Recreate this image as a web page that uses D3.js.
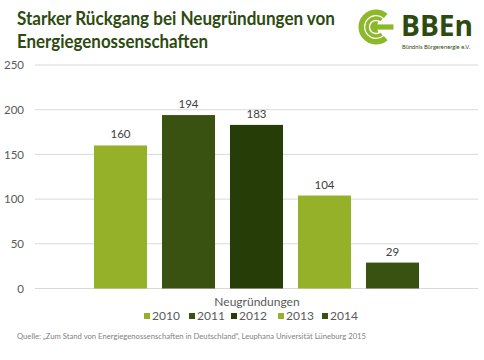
<!DOCTYPE html>
<html><head><meta charset="utf-8">
<script src="https://cdn.jsdelivr.net/npm/d3@7"></script>
<style>body{margin:0;background:#fff;}svg{display:block;font-family:Lato,"Open Sans",sans-serif;}</style>
</head><body><svg id="c" width="484" height="360"></svg>
<script>
const categories = ["2010","2011","2012","2013","2014"];
const values = [160,194,183,104,29];
const colors = ["#95b12a","#3a5211","#263d07","#95b12a","#3a5211"];
const yTicks = [0,50,100,150,200,250];
const title = ["Starker Rückgang bei Neugründungen von","Energiegenossenschaften"];
const xTitle = "Neugründungen";
const source = "Quelle: „Zum Stand von Energiegenossenschaften in Deutschland“, Leuphana Universität Lüneburg 2015";

const svg = d3.select("#c");
const x = d3.scaleBand().domain(categories).range([35,478]).paddingInner(0.22).paddingOuter(0.8675);
const y = d3.scaleLinear().domain([0,250]).range([288.5,65]);

// gridlines
svg.append("g").selectAll("line").data(yTicks).join("line")
  .attr("x1",35).attr("x2",478).attr("y1",d=>y(d)).attr("y2",d=>y(d))
  .attr("stroke","#d9d9d9").attr("stroke-width",1);

// y axis labels
const ax = svg.append("g").attr("transform","translate(30,0)")
  .call(d3.axisLeft(y).tickValues(yTicks).tickSize(0).tickPadding(6));
ax.select(".domain").remove();
ax.selectAll("text").attr("fill","#595959").attr("font-size",11.5).attr("font-family","Lato,'Open Sans',sans-serif");

// bars
svg.append("g").selectAll("rect").data(values).join("rect")
  .attr("x",(d,i)=>x(categories[i])).attr("width",x.bandwidth())
  .attr("y",d=>y(d)).attr("height",d=>y(0)-y(d))
  .attr("fill",(d,i)=>colors[i]);

// value labels
svg.append("g").selectAll("text").data(values).join("text")
  .attr("x",(d,i)=>x(categories[i])+x.bandwidth()/2).attr("y",d=>y(d)-7)
  .attr("text-anchor","middle").attr("font-size",11.5).attr("fill","#404040").text(d=>d);

// title
const titleLen = [318,191];
svg.append("g").selectAll("text").data(title).join("text")
  .attr("x",17).attr("y",(d,i)=>25+i*23).attr("font-size",19).attr("font-weight","bold")
  .attr("textLength",(d,i)=>titleLen[i]).attr("lengthAdjust","spacingAndGlyphs")
  .attr("fill","#2d4a10").text(d=>d);

// x title
svg.append("text").attr("x",257).attr("y",306).attr("text-anchor","middle")
  .attr("font-size",12).attr("fill","#595959").text(xTitle);

// legend
const legX = [144,189,231,278,322];
const lg = svg.append("g").selectAll("g").data(categories).join("g")
  .attr("transform",(d,i)=>`translate(${legX[i]},0)`);
lg.append("rect").attr("x",0).attr("y",313).attr("width",6).attr("height",6).attr("fill",(d,i)=>colors[i]);
lg.append("text").attr("x",8).attr("y",320).attr("font-size",12).attr("fill","#595959").text(d=>d);

// source
svg.append("text").attr("x",17).attr("y",339).attr("font-size",7.5).attr("fill","#7f7f7f")
  .attr("textLength",349).attr("lengthAdjust","spacingAndGlyphs").text(source);

// logo
const lgG = svg.append("g").attr("transform","translate(376,27)");
const arc = d3.arc();
const g0 = "#8db82a";
const openA = 0.5*Math.PI;
[[12,17.5,0.3],[7.2,10.8,0.32],[0,5.8,0.4]].forEach(([ri,ro,gap])=>{
  lgG.append("path").attr("d",arc({innerRadius:ri,outerRadius:ro,startAngle:openA+gap*Math.PI*0.9,endAngle:openA+2*Math.PI-gap*Math.PI*0.9})).attr("fill",g0);
});
lgG.append("rect").attr("x",0).attr("y",-2.6).attr("width",17.5).attr("height",5.2).attr("fill",g0);
svg.append("text").attr("x",401).attr("y",36).attr("font-size",29).attr("font-weight","bold")
  .attr("textLength",72).attr("lengthAdjust","spacingAndGlyphs")
  .attr("fill","#2d4a10").attr("font-family","'Open Sans',sans-serif").text("BBEn");
svg.append("text").attr("x",402).attr("y",49).attr("font-size",5.5).attr("fill","#2d4a10")
  .attr("textLength",68).attr("lengthAdjust","spacingAndGlyphs").text("Bündnis Bürgerenergie e.V.");
</script></body></html>
